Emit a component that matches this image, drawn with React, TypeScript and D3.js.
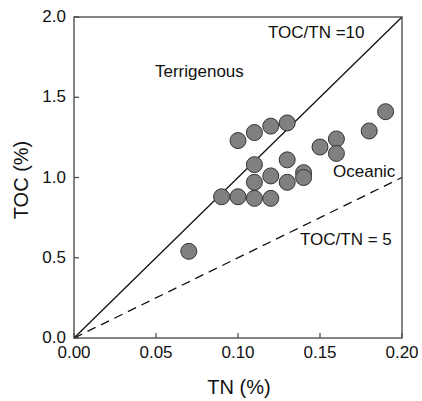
import React from "react";
import * as d3 from "d3";

const tn = [0.07, 0.09, 0.10, 0.11, 0.12, 0.11, 0.12, 0.13, 0.14, 0.14, 0.11, 0.13, 0.10, 0.11, 0.12, 0.13, 0.15, 0.16, 0.16, 0.18, 0.19];
const toc = [0.54, 0.88, 0.88, 0.87, 0.87, 0.97, 1.01, 0.97, 1.03, 1.00, 1.08, 1.11, 1.23, 1.28, 1.32, 1.34, 1.19, 1.24, 1.15, 1.29, 1.41];
const xTicks = [0, 0.05, 0.1, 0.15, 0.2];
const yTicks = [0, 0.5, 1.0, 1.5, 2.0];
const ratios = [10, 5];

const W = 422, H = 401;
const L = 74, R = 402, T = 17, B = 338;
const FONT = "'Liberation Sans', Arial, sans-serif";

export default function App() {
  const x = d3.scaleLinear().domain([0, 0.2]).range([L, R]);
  const y = d3.scaleLinear().domain([0, 2]).range([B, T]);
  const line = d3.line<[number, number]>().x(d => x(d[0])).y(d => y(d[1]));
  return (
    <svg width={W} height={H} style={{ position: "absolute", left: 0, top: 0, background: "#fff" }} fontFamily={FONT}>
      {ratios.map((r, i) => (
        <path key={r} d={line([[0, 0], [0.2, 0.2 * r]]) || ""} fill="none" stroke="#111" strokeWidth={1.3}
          strokeDasharray={i === 1 ? "9,6" : undefined} />
      ))}
      {tn.map((v, i) => (
        <circle key={i} cx={x(v)} cy={y(toc[i])} r={8} fill="#808080" stroke="#333" strokeWidth={1} />
      ))}
      <rect x={L} y={T} width={R - L} height={B - T} fill="none" stroke="#444" strokeWidth={1.3} />
      {xTicks.map(t => (
        <g key={t}>
          <line x1={x(t)} x2={x(t)} y1={B} y2={B - 5} stroke="#444" strokeWidth={1.2} />
          <text x={x(t)} y={B + 20} textAnchor="middle" fontSize={17} fill="#111">{t.toFixed(2)}</text>
        </g>
      ))}
      {yTicks.map(t => (
        <g key={t}>
          <line x1={L} x2={L + 5} y1={y(t)} y2={y(t)} stroke="#444" strokeWidth={1.2} />
          <text x={L - 8} y={y(t) + 5} textAnchor="end" fontSize={17} fill="#111">{t.toFixed(1)}</text>
        </g>
      ))}
      <text x={239} y={394} textAnchor="middle" fontSize={20} fill="#111">TN (%)</text>
      <text transform={`translate(28,180) rotate(-90)`} textAnchor="middle" fontSize={20} fill="#111">TOC (%)</text>
      <text x={268} y={38} fontSize={17} fill="#111">TOC/TN =10</text>
      <text x={155} y={77} fontSize={17} fill="#111">Terrigenous</text>
      <text x={333} y={177} fontSize={17} fill="#111">Oceanic</text>
      <text x={300} y={245} fontSize={17} fill="#111">TOC/TN = 5</text>
    </svg>
  );
}
